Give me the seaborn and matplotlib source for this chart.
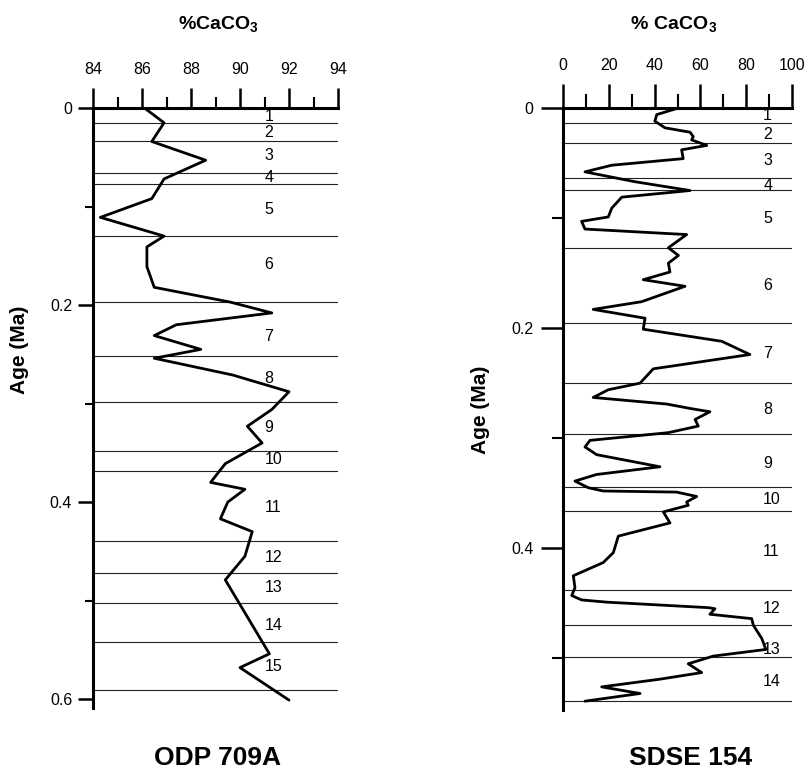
import matplotlib
matplotlib.use('Agg')
import matplotlib.pyplot as plt
import seaborn as sns
import pandas as pd
from matplotlib.ticker import MultipleLocator, FuncFormatter

# ---------------- data: ODP 709A ----------------
age_709 = [0.000, 0.015, 0.034, 0.053, 0.072, 0.092, 0.111, 0.130, 0.141, 0.161,
           0.182, 0.197, 0.208, 0.220, 0.231, 0.245, 0.254, 0.271, 0.288, 0.306,
           0.323, 0.340, 0.361, 0.380, 0.387, 0.400, 0.417, 0.430, 0.455, 0.479,
           0.554, 0.568, 0.601]
caco3_709 = [86.1, 86.9, 86.4, 88.6, 86.9, 86.4, 84.3, 86.9, 86.2, 86.2,
             86.5, 89.6, 91.3, 87.4, 86.5, 88.4, 86.5, 89.7, 92.0, 91.3,
             90.3, 90.9, 89.4, 88.8, 90.2, 89.5, 89.2, 90.5, 90.2, 89.4,
             91.2, 90.0, 92.0]
bounds_709 = [0.015, 0.034, 0.066, 0.077, 0.130, 0.197, 0.252, 0.298, 0.348,
              0.368, 0.440, 0.472, 0.502, 0.542, 0.591]
stage_age_709 = [0.009, 0.025, 0.048, 0.071, 0.103, 0.159, 0.232, 0.275, 0.324,
                 0.357, 0.405, 0.456, 0.487, 0.525, 0.567]
stages_709 = [str(i) for i in range(1, 16)]

# ---------------- data: SDSE 154 ----------------
age_154 = [0.000, 0.006, 0.012, 0.018, 0.022, 0.026, 0.029, 0.034, 0.038, 0.046,
           0.052, 0.058, 0.067, 0.075, 0.081, 0.091, 0.099, 0.103, 0.110, 0.115,
           0.127, 0.134, 0.141, 0.149, 0.156, 0.162, 0.176, 0.183, 0.191, 0.201,
           0.212, 0.224, 0.237, 0.250, 0.256, 0.263, 0.269, 0.273, 0.276, 0.283,
           0.289, 0.295, 0.302, 0.308, 0.315, 0.326, 0.333, 0.339, 0.345, 0.348,
           0.349, 0.353, 0.358, 0.361, 0.367, 0.377, 0.389, 0.404, 0.413, 0.425,
           0.436, 0.443, 0.447, 0.449, 0.454, 0.455, 0.460, 0.464, 0.470, 0.482,
           0.492, 0.498, 0.505, 0.513, 0.519, 0.526, 0.532, 0.539]
caco3_154 = [50.4, 40.9, 40.1, 44.5, 55.5, 56.9, 56.2, 62.8, 51.8, 52.5,
             21.2, 9.5, 31.4, 55.5, 25.6, 21.2, 19.7, 8.0, 9.5, 54.0,
             46.0, 50.4, 46.0, 46.7, 35.0, 53.3, 34.3, 13.1, 35.8, 35.0,
             69.4, 81.7, 39.4, 33.6, 19.7, 13.1, 45.3, 55.5, 64.2, 57.7,
             59.1, 46.0, 11.7, 9.5, 14.6, 42.3, 14.6, 5.1, 10.9, 17.5,
             49.6, 58.4, 54.0, 54.7, 43.8, 46.7, 24.1, 21.9, 17.5, 4.4,
             5.1, 3.7, 8.0, 19.0, 63.5, 66.4, 64.2, 82.5, 83.2, 86.9,
             88.7, 65.7, 54.7, 60.6, 42.3, 16.8, 33.6, 9.5]
bounds_154 = [0.0133, 0.032, 0.064, 0.0745, 0.127, 0.195, 0.2495, 0.296, 0.3446,
              0.3658, 0.438, 0.470, 0.499, 0.539]
stage_age_154 = [0.007, 0.024, 0.048, 0.070, 0.100, 0.161, 0.223, 0.274, 0.323,
                 0.356, 0.403, 0.455, 0.492, 0.521]
stages_154 = [str(i) for i in range(1, 15)]

# ---------------- style ----------------
sns.set_style('ticks')
plt.rcParams['font.family'] = ['Liberation Sans', 'DejaVu Sans']
plt.rcParams['mathtext.fontset'] = 'custom'
plt.rcParams['mathtext.rm'] = 'Liberation Sans'
plt.rcParams['mathtext.bf'] = 'Liberation Sans:bold'
plt.rcParams['text.color'] = 'black'
plt.rcParams['axes.labelcolor'] = 'black'
plt.rcParams['xtick.color'] = 'black'
plt.rcParams['ytick.color'] = 'black'

W, H = 808, 775
fig = plt.figure(figsize=(W / 100, H / 100), dpi=100)
fig.patch.set_facecolor('white')


def axpos(x0, x1, y0, y1):
    return [x0 / W, 1 - y1 / H, (x1 - x0) / W, (y1 - y0) / H]


ax1 = fig.add_axes(axpos(93, 338, 108, 708))
ax2 = fig.add_axes(axpos(563.3, 791.7, 108, 710))

df1 = pd.DataFrame({'caco3': caco3_709, 'age': age_709})
df2 = pd.DataFrame({'caco3': caco3_154, 'age': age_154})

sns.lineplot(data=df1, x='caco3', y='age', sort=False, estimator=None,
             ax=ax1, color='black', lw=2.0)
sns.lineplot(data=df2, x='caco3', y='age', sort=False, estimator=None,
             ax=ax2, color='black', lw=2.0)

ax1.set_xlim(84, 94)
ax1.set_ylim(0.609, 0)
ax2.set_xlim(0, 100)
ax2.set_ylim(0.547, 0)

yfmt = FuncFormatter(lambda v, _: '0' if abs(v) < 1e-9 else f'{v:.1f}')

specs = [
    (ax1, 2, 1, 14.4, 8.0, 11.0, 6.0, 8.0, 4.0),
    (ax2, 20, 10, 17.0, 10.0, 16.0, 8.0, 8.0, 5.5),
]
for ax, xmaj, xmin, xl, xml, yl, yml, xpad, ypad in specs:
    for s in ['right', 'bottom']:
        ax.spines[s].set_visible(False)
    for s in ['left', 'top']:
        ax.spines[s].set_linewidth(2.2)
        ax.spines[s].set_color('black')
    ax.xaxis.set_ticks_position('top')
    ax.xaxis.set_label_position('top')
    ax.xaxis.set_major_locator(MultipleLocator(xmaj))
    ax.xaxis.set_minor_locator(MultipleLocator(xmin))
    ax.yaxis.set_major_locator(MultipleLocator(0.2))
    ax.yaxis.set_minor_locator(MultipleLocator(0.1))
    ax.yaxis.set_major_formatter(yfmt)
    ax.tick_params(axis='x', which='major', direction='out', length=xl,
                   width=1.8, pad=xpad, labelsize=11.5, colors='black')
    ax.tick_params(axis='x', which='minor', direction='out', length=xml,
                   width=1.5, colors='black')
    ax.tick_params(axis='y', which='major', direction='out', length=yl,
                   width=1.8, pad=ypad, labelsize=11.5, colors='black')
    ax.tick_params(axis='y', which='minor', direction='out', length=yml,
                   width=1.5, colors='black')
    ax.set_xlabel('')
    ax.set_ylabel('')
    ax.set_facecolor('white')
    ax.grid(False)

for b in bounds_709:
    ax1.axhline(b, color='#222222', lw=0.8, zorder=1)
for a, s in zip(stage_age_709, stages_709):
    ax1.text(91.0, a, s, ha='left', va='center', fontsize=11.5)

for b in bounds_154:
    ax2.axhline(b, color='#222222', lw=0.8, zorder=1)
for a, s in zip(stage_age_154, stages_154):
    ax2.text(87.5, a, s, ha='left', va='center', fontsize=11.5)

fig.text(218 / W, 1 - 24 / H, r'$\mathbf{\%CaCO_3}$', ha='center', va='center',
         fontsize=14)
fig.text(674 / W, 1 - 24 / H, r'$\mathbf{\%\ CaCO_3}$', ha='center', va='center',
         fontsize=14)
fig.text(20 / W, 1 - 350 / H, 'Age (Ma)', rotation=90, ha='center', va='center',
         fontsize=15, fontweight='bold')
fig.text(480 / W, 1 - 410 / H, 'Age (Ma)', rotation=90, ha='center', va='center',
         fontsize=15, fontweight='bold')
fig.text(217 / W, 1 - 758 / H, 'ODP 709A', ha='center', va='center',
         fontsize=19, fontweight='bold')
fig.text(691 / W, 1 - 758 / H, 'SDSE 154', ha='center', va='center',
         fontsize=19, fontweight='bold')

fig.savefig('out.png', dpi=100, facecolor='white')
